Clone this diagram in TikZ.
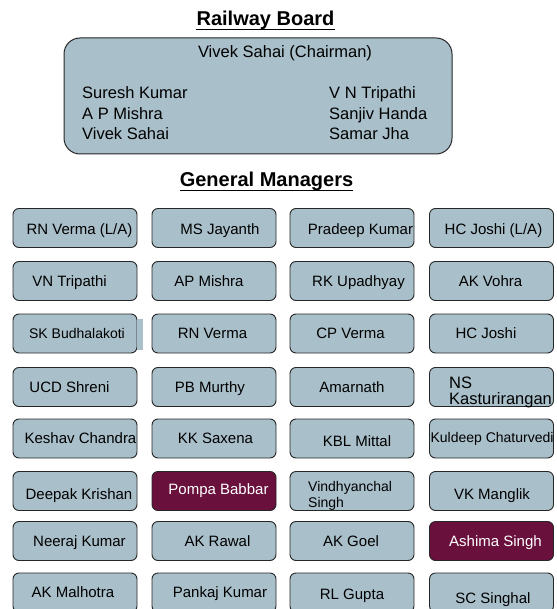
\documentclass[tikz,border=0pt]{standalone}
\usepackage{fontspec}
\setmainfont{Liberation Sans}
\usetikzlibrary{positioning}

\definecolor{boardblue}{RGB}{169,191,202}
\definecolor{gmmaroon}{RGB}{106,16,60}

\tikzset{
  heading/.style={font=\fontsize{20}{24}\selectfont\bfseries, inner sep=0, anchor=base},
  headrule/.style={line width=1.6pt},
  boardbox/.style={draw=black!85, line width=1pt, fill=boardblue, rounded corners=16pt,
                   minimum width=388pt, minimum height=116pt},
  member/.style={font=\fontsize{16.5}{20}\selectfont, inner sep=0, anchor=base west},
  gmbox/.style={draw=black!85, line width=0.9pt, fill=boardblue, rounded corners=6pt,
                minimum width=124pt, minimum height=39pt, inner sep=0},
  gmhigh/.style={gmbox, fill=gmmaroon},
  gmname/.style={font=\fontsize{15}{16}\selectfont, inner sep=0, text height=10.9pt, text depth=0pt},
  gmsmall/.style={gmname, font=\fontsize{14}{16}\selectfont, text height=10.2pt},
  gmtwo/.style={font=\fontsize{16.5}{15.5}\selectfont, inner sep=0, align=left, anchor=north west},
}

\begin{document}
\begin{tikzpicture}[x=1pt, y=-1pt]
  \useasboundingbox (0,0) rectangle (556,609);
  \clip (0,0) rectangle (556,609);

  % Railway Board
  \node[heading] (railway) at (265.5,26) {Railway Board};
  \draw[headrule] ([yshift=-3.5pt]railway.base west) -- ([yshift=-3.5pt]railway.base east);
  \node[boardbox] (board) at (258,96) {};
  \node[member, anchor=base] (chairman) at (285,58) {Vivek Sahai (Chairman)};
  \foreach \n/\name in {1/Suresh Kumar, 2/A P Mishra, 3/Vivek Sahai}
    \node[member] (left\n) at (82,{78.5+20.5*\n}) {\name};
  \foreach \n/\name in {1/V N Tripathi, 2/Sanjiv Handa, 3/Samar Jha}
    \node[member] (right\n) at (329,{78.5+20.5*\n}) {\name};

  % General Managers
  \node[heading] (managers) at (266.5,187) {General Managers};
  \draw[headrule] ([yshift=-3.5pt]managers.base west) -- ([yshift=-3.5pt]managers.base east);

  % row 1
  \node[gmbox] (gm11) at (75,228) {};    \node[gmname, xshift=4.5pt, yshift=-1.5pt] (name11) at (gm11) {RN Verma (L/A)};
  \node[gmbox] (gm12) at (214,228) {};   \node[gmname, xshift=6pt, yshift=-1.5pt] (name12) at (gm12) {MS Jayanth};
  \node[gmbox] (gm13) at (352,228) {};   \node[gmname, xshift=8.5pt, yshift=-1.5pt] (name13) at (gm13) {Pradeep Kumar};
  \node[gmbox] (gm14) at (491.5,228) {}; \node[gmname, xshift=2pt, yshift=-1.5pt] (name14) at (gm14) {HC Joshi (L/A)};
  % row 2
  \node[gmbox] (gm21) at (75,281) {};    \node[gmname, xshift=-5.5pt] (name21) at (gm21) {VN Tripathi};
  \node[gmbox] (gm22) at (214,281) {};   \node[gmname, xshift=-5pt] (name22) at (gm22) {AP Mishra};
  \node[gmbox] (gm23) at (352,281) {};   \node[gmname, xshift=6.5pt] (name23) at (gm23) {RK Upadhyay};
  \node[gmbox] (gm24) at (491.5,281) {}; \node[gmname, xshift=-1pt] (name24) at (gm24) {AK Vohra};
  % row 3
  \node[gmbox] (gm31) at (75,333.5) {};    \node[gmsmall, xshift=2pt] (name31) at (gm31) {SK Budhalakoti};
  \fill[boardblue] (136.6,319) rectangle (143,350);
  \node[gmbox] (gm32) at (214,333.5) {};   \node[gmname, xshift=-1.5pt] (name32) at (gm32) {RN Verma};
  \node[gmbox] (gm33) at (352,333.5) {};   \node[gmname, xshift=-1.5pt] (name33) at (gm33) {CP Verma};
  \node[gmbox] (gm34) at (491.5,333.5) {}; \node[gmname, xshift=-5.5pt] (name34) at (gm34) {HC Joshi};
  % row 4
  \node[gmbox] (gm41) at (75,387) {};    \node[gmname, xshift=-5.5pt] (name41) at (gm41) {UCD Shreni};
  \node[gmbox] (gm42) at (214,387) {};   \node[gmname, xshift=-4pt] (name42) at (gm42) {PB Murthy};
  \node[gmbox] (gm43) at (352,387) {};   \node[gmname] (name43) at (gm43) {Amarnath};
  \node[gmbox] (gm44) at (491.5,387) {}; \node[gmtwo] (name44) at (449,377) {NS\\Kasturirangan};
  % row 5
  \node[gmbox] (gm51) at (75,438.5) {};    \node[gmname, xshift=5.5pt] (name51) at (gm51) {Keshav Chandra};
  \node[gmbox] (gm52) at (214,438.5) {};   \node[gmname, xshift=1.5pt] (name52) at (gm52) {KK Saxena};
  \node[gmbox] (gm53) at (352,438.5) {};   \node[gmname, xshift=5pt, yshift=-3pt] (name53) at (gm53) {KBL Mittal};
  \node[gmbox] (gm54) at (491.5,438.5) {}; \node[gmsmall, xshift=0.5pt, yshift=1pt] (name54) at (gm54) {Kuldeep Chaturvedi};
  % row 6
  \node[gmbox] (gm61) at (75,491) {};    \node[gmname, xshift=4pt, yshift=-3pt] (name61) at (gm61) {Deepak Krishan};
  \node[gmhigh] (gm62) at (214,491) {};  \node[gmname, text=white, xshift=4.5pt, yshift=1.5pt] (name62) at (gm62) {Pompa Babbar};
  \node[gmbox] (gm63) at (352,491) {};   \node[gmtwo, font=\fontsize{14}{16}\selectfont] (name63) at (308,481) {Vindhyanchal\\Singh};
  \node[gmbox] (gm64) at (491.5,491) {}; \node[gmname, xshift=0.5pt, yshift=-3pt] (name64) at (gm64) {VK Manglik};
  % row 7
  \node[gmbox] (gm71) at (75,541) {};    \node[gmname, xshift=4.5pt] (name71) at (gm71) {Neeraj Kumar};
  \node[gmbox] (gm72) at (214,541) {};   \node[gmname, xshift=3.5pt] (name72) at (gm72) {AK Rawal};
  \node[gmbox] (gm73) at (352,541) {};   \node[gmname, xshift=-1pt] (name73) at (gm73) {AK Goel};
  \node[gmhigh] (gm74) at (491.5,541) {};\node[gmname, text=white, xshift=4pt] (name74) at (gm74) {Ashima Singh};
  % row 8
  \node[gmbox] (gm81) at (75,592.5) {};    \node[gmname, xshift=-2pt] (name81) at (gm81) {AK Malhotra};
  \node[gmbox] (gm82) at (214,592.5) {};   \node[gmname, xshift=6pt] (name82) at (gm82) {Pankaj Kumar};
  \node[gmbox] (gm83) at (352,592.5) {};   \node[gmname, yshift=-2pt] (name83) at (gm83) {RL Gupta};
  \node[gmbox] (gm84) at (491.5,592.5) {}; \node[gmname, xshift=1.5pt, yshift=-6pt] (name84) at (gm84) {SC Singhal};
\end{tikzpicture}
\end{document}
